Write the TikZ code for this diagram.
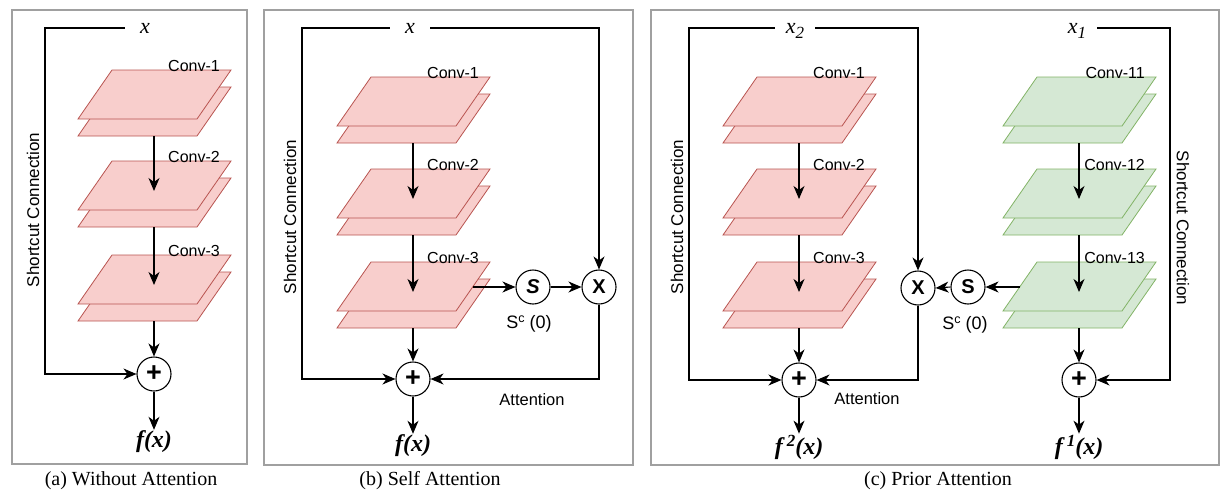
\documentclass[tikz,border=0pt]{standalone}
\usepackage{fontspec}
\setmainfont{Liberation Serif}
\setsansfont{Liberation Sans}
\usetikzlibrary{arrows.meta}
\definecolor{pinkfill}{RGB}{248,206,204}
\definecolor{pinkdraw}{RGB}{184,84,80}
\definecolor{greenfill}{RGB}{213,232,212}
\definecolor{greendraw}{RGB}{130,179,102}
\definecolor{boxgray}{RGB}{160,160,160}
\tikzset{
  sheetline/.style={line width=0.8pt},
  panelbox/.style={draw=boxgray,line width=2pt},
  conn/.style={line width=1.1pt},
  arr/.style={line width=1.1pt,-{Stealth[length=13pt,width=11pt,inset=4pt]}},
  op/.style={circle,draw,line width=1.1pt,fill=white,minimum size=34pt,inner sep=0pt,font=\sffamily\bfseries\fontsize{20}{20}\selectfont},
  plusfont/.style={font=\sffamily\bfseries\fontsize{27}{27}\selectfont},
  convlab/.style={font=\sffamily\fontsize{16}{19}\selectfont,inner sep=0pt,anchor=base east},
  smalllab/.style={font=\sffamily\fontsize{16.5}{19}\selectfont,inner sep=0pt},
  sclab/.style={font=\sffamily\fontsize{17}{19}\selectfont,inner sep=0pt},
  xlab/.style={font=\itshape\fontsize{22}{26}\selectfont,inner sep=0pt,minimum width=40pt},
  flab/.style={font=\bfseries\itshape\fontsize{24}{28}\selectfont,inner sep=1pt},
  caption/.style={font=\fontsize{20}{24}\selectfont,inner sep=0pt}
}
\newcommand\mysub[1]{\raisebox{-5pt}{\fontsize{17}{17}\selectfont #1}}
\newcommand\mysup[1]{\raisebox{8pt}{\fontsize{17}{17}\selectfont #1}}
\newcommand\mysc{\raisebox{6pt}{\fontsize{12.5}{12.5}\selectfont c}}
% #1 name, #2 L, #3 T, #4 fill, #5 draw, #6 label
\newcommand\convstack[6]{%
  \begin{scope}[shift={(#2,#3)}]
    \draw[sheetline,fill=#4,draw=#5] (0,66)--(119,66)--(153,17)--(34,17)--cycle;
    \draw[sheetline,fill=#4,draw=#5] (0,49)--(119,49)--(153,0)--(34,0)--cycle;
    \coordinate (#1-bot) at (76,66);
    \coordinate (#1-in) at (76,30);
    \coordinate (#1-right) at (136,25);
    \coordinate (#1-left) at (17,25);
    \node[convlab] (#1-label) at (142,1) {#6};
  \end{scope}}
\begin{document}
\begin{tikzpicture}[x=1pt,y=-1pt]
\useasboundingbox (0,0) rectangle (1226,498);
\coordinate (y28) at (0,28);

% ---------- Panel (a) ----------
\draw[panelbox] (12,10) rectangle (247,464);
\node[caption] (capa) at (131,481) {(a) Without Attention};
\convstack{a1}{78}{70}{pinkfill}{pinkdraw}{Conv-1}
\convstack{a2}{78}{161}{pinkfill}{pinkdraw}{Conv-2}
\convstack{a3}{78}{255}{pinkfill}{pinkdraw}{Conv-3}
\node[xlab] (xa) at (145,28) {x};
\node[op,plusfont] (pa) at (154,374) {+};
\node[flab] (fa) at (154,442) {f(x)};
\node[sclab,rotate=90] (sca) at (33,210) {Shortcut Connection};
\draw[arr] (xa.west) -- (45,28) |- (pa.west);
\draw[arr] (a1-bot) -- (a2-in);
\draw[arr] (a2-bot) -- (a3-in);
\draw[arr] (a3-bot) -- (pa.north);
\draw[arr] (pa.south) -- (fa.north);

% ---------- Panel (b) ----------
\draw[panelbox] (264,10) rectangle (633,465);
\node[caption] (capb) at (430,481) {(b) Self Attention};
\convstack{b1}{337}{77}{pinkfill}{pinkdraw}{Conv-1}
\convstack{b2}{337}{169}{pinkfill}{pinkdraw}{Conv-2}
\convstack{b3}{337}{262}{pinkfill}{pinkdraw}{Conv-3}
\node[xlab] (xb) at (410,28) {x};
\node[op,plusfont] (pb) at (413,379) {+};
\node[op] (sb) at (533,287) {\itshape S};
\node[op] (mb) at (599,287) {X};
\node[flab] (fb) at (413,446) {f(x)};
\node[sclab,rotate=90] (scb) at (290,217) {Shortcut Connection};
\node[smalllab] (attb) at (532,400) {Attention};
\node[smalllab,font=\sffamily\fontsize{18}{20}\selectfont] (sclb) at (529,324) {S\mysc{} (0)};
\draw[arr] (xb.west) -- (302,28) |- (pb.west);
\draw[arr] (xb.east) -| (mb.north);
\draw[arr] (b3-right) -- (sb.west);
\draw[arr] (sb.east) -- (mb.west);
\draw[arr] (mb.south) |- (pb.east);
\draw[arr] (b1-bot) -- (b2-in);
\draw[arr] (b2-bot) -- (b3-in);
\draw[arr] (b3-bot) -- (pb.north);
\draw[arr] (pb.south) -- (fb.north);

% ---------- Panel (c) ----------
\draw[panelbox] (651,10) rectangle (1219,465);
\node[caption] (capc) at (938,481) {(c) Prior Attention};
\convstack{c1}{723}{77}{pinkfill}{pinkdraw}{Conv-1}
\convstack{c2}{723}{169}{pinkfill}{pinkdraw}{Conv-2}
\convstack{c3}{723}{262}{pinkfill}{pinkdraw}{Conv-3}
\convstack{g1}{1003}{77}{greenfill}{greendraw}{Conv-11}
\convstack{g2}{1003}{169}{greenfill}{greendraw}{Conv-12}
\convstack{g3}{1003}{262}{greenfill}{greendraw}{Conv-13}
\node[xlab,anchor=base] (xc2) at (795,33) {x\mysub{2}};
\node[xlab,anchor=base] (xc1) at (1077,33) {x\mysub{1}};
\node[op,plusfont] (pc) at (799,380) {+};
\node[op] (mc) at (918,288) {X};
\node[op] (sc) at (968,287) {S};
\node[op,plusfont] (pc1) at (1079,380) {+};
\node[flab] (fc2) at (799,447) {f\,\mysup{2}(x)};
\node[flab] (fc1) at (1079,447) {f\,\mysup{1}(x)};
\node[sclab,rotate=90] (scc) at (677,217) {Shortcut Connection};
\node[sclab,rotate=-90] (scc1) at (1183,228) {Shortcut Connection};
\node[smalllab] (attc) at (867,399) {Attention};
\node[smalllab,font=\sffamily\fontsize{18}{20}\selectfont] (sclc) at (965,325) {S\mysc{} (0)};
\draw[arr] (xc2.west |- y28) -- (689,28) |- (pc.west);
\draw[arr] (xc2.east |- y28) -| (mc.north);
\draw[arr] (g3-left) -- (sc.east);
\draw[arr] (sc.west) -- (mc.east);
\draw[arr] (mc.south) |- (pc.east);
\draw[arr] (xc1.east |- y28) -- (1170,28) |- (pc1.east);
\draw[arr] (c1-bot) -- (c2-in);
\draw[arr] (c2-bot) -- (c3-in);
\draw[arr] (c3-bot) -- (pc.north);
\draw[arr] (pc.south) -- (fc2.north);
\draw[arr] (g1-bot) -- (g2-in);
\draw[arr] (g2-bot) -- (g3-in);
\draw[arr] (g3-bot) -- (pc1.north);
\draw[arr] (pc1.south) -- (fc1.north);
\end{tikzpicture}
\end{document}
